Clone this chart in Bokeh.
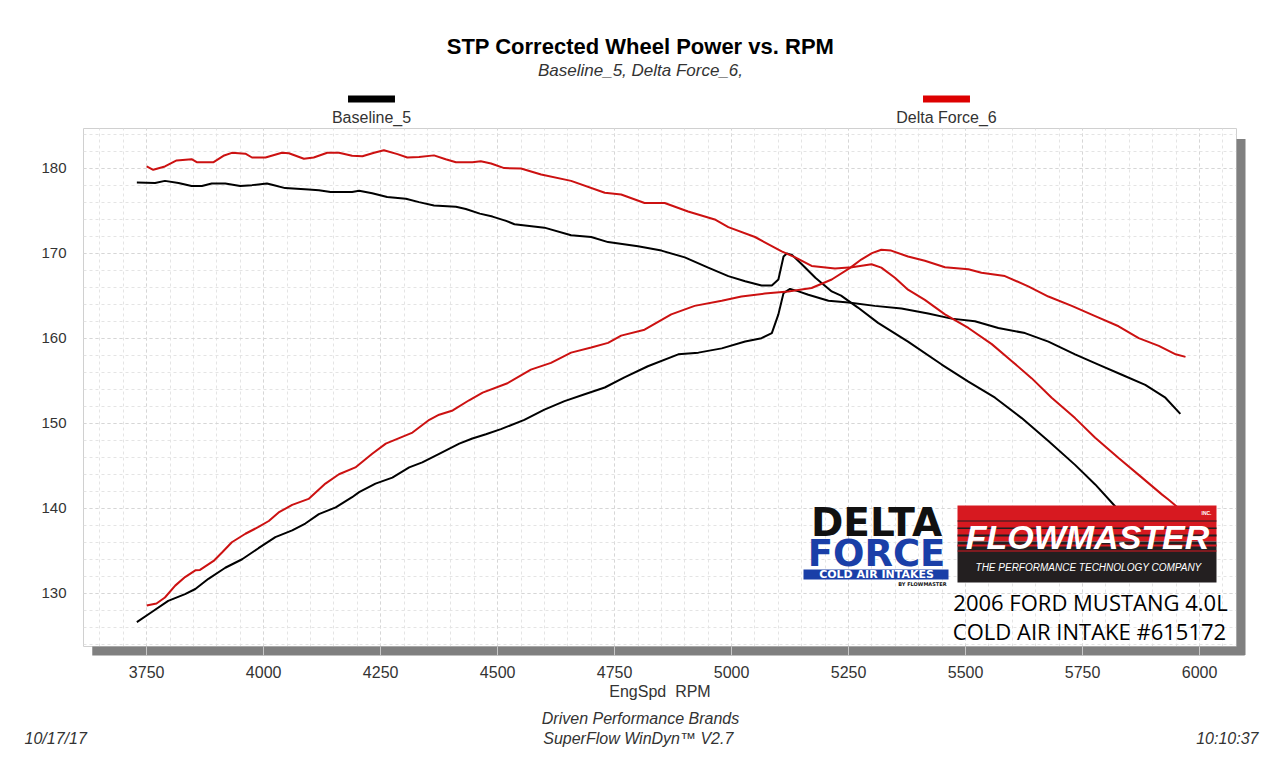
import math
from bokeh.plotting import figure
from bokeh.models import Range1d, FixedTicker, Label, BoxAnnotation
from bokeh.embed import file_html
from bokeh.resources import INLINE

# Baseline_5 (black) and Delta Force_6 (red), two traces each
base_tq_rpm = [3729, 3768, 3789, 3818, 3846, 3868, 3889, 3918, 3950, 3975, 4007, 4018, 4046, 4096,
               4118, 4143, 4189, 4204, 4232, 4264, 4304, 4332, 4364, 4411, 4432, 4462, 4489, 4518,
               4536, 4600, 4657, 4700, 4736, 4800, 4850, 4900, 4950, 4993, 5029, 5064, 5086, 5100,
               5111, 5118, 5129, 5150, 5179, 5214, 5234, 5270, 5313, 5377, 5449, 5506, 5563, 5620,
               5677, 5734, 5777, 5820, 5870, 5920, 5960]
base_tq = [178.3, 178.25, 178.5, 178.25, 177.9, 177.9, 178.2, 178.2, 177.9, 178.0, 178.2, 178.05,
           177.65, 177.5, 177.4, 177.2, 177.2, 177.35, 177.05, 176.6, 176.4, 176.0, 175.6, 175.45,
           175.2, 174.65, 174.3, 173.8, 173.4, 173.0, 172.1, 171.9, 171.3, 170.8, 170.3, 169.5,
           168.3, 167.3, 166.7, 166.2, 166.2, 166.9, 169.6, 169.96, 169.8, 168.7, 167.1, 165.5,
           165.0, 163.6, 161.8, 159.6, 156.9, 154.9, 153.0, 150.6, 147.9, 145.1, 142.8, 140.2,
           137.5, 135.0, 133.0]

base_hp_rpm = [3729, 3761, 3796, 3832, 3854, 3882, 3918, 3954, 3989, 4025, 4061, 4089, 4118, 4154,
               4189, 4204, 4239, 4275, 4311, 4339, 4375, 4418, 4446, 4475, 4507, 4557, 4600, 4643,
               4686, 4729, 4771, 4821, 4886, 4929, 4979, 5029, 5064, 5086, 5100, 5107, 5111, 5125,
               5143, 5164, 5207, 5250, 5306, 5363, 5420, 5470, 5520, 5570, 5627, 5677, 5734, 5784,
               5834, 5884, 5927, 5959]
base_hp = [126.6, 127.8, 129.1, 129.9, 130.5, 131.7, 133.0, 134.0, 135.3, 136.6, 137.4, 138.2,
           139.3, 140.1, 141.3, 141.9, 142.9, 143.6, 144.8, 145.4, 146.4, 147.6, 148.2, 148.7,
           149.3, 150.4, 151.6, 152.6, 153.4, 154.2, 155.4, 156.7, 158.1, 158.3, 158.8, 159.6,
           160.0, 160.6, 162.8, 164.4, 165.3, 165.8, 165.5, 165.1, 164.4, 164.2, 163.8, 163.5,
           162.9, 162.3, 162.0, 161.2, 160.6, 159.6, 158.1, 156.9, 155.7, 154.5, 153.0, 151.1]

df_tq_rpm = [3750, 3764, 3789, 3814, 3846, 3857, 3893, 3914, 3932, 3961, 3975, 4004, 4039, 4054,
             4086, 4107, 4136, 4161, 4189, 4211, 4236, 4257, 4286, 4307, 4332, 4364, 4389, 4411,
             4446, 4464, 4486, 4514, 4550, 4593, 4657, 4729, 4764, 4814, 4857, 4907, 4964, 4993,
             5050, 5107, 5136, 5171, 5221, 5257, 5299, 5320, 5349, 5377, 5413, 5456, 5506, 5556,
             5599, 5641, 5684, 5734, 5777, 5827, 5877, 5920, 5934, 5960]
df_tq = [180.2, 179.8, 180.2, 180.9, 181.05, 180.7, 180.7, 181.45, 181.8, 181.7, 181.25, 181.25,
         181.8, 181.75, 181.1, 181.25, 181.8, 181.8, 181.45, 181.4, 181.8, 182.1, 181.65, 181.25,
         181.3, 181.5, 181.05, 180.7, 180.7, 180.8, 180.55, 180.0, 179.96, 179.25, 178.5, 177.1,
         176.9, 175.9, 175.9, 174.9, 173.96, 173.06, 171.9, 170.2, 169.5, 168.5, 168.2, 168.35,
         168.7, 168.3, 167.1, 165.7, 164.5, 162.8, 161.2, 159.3, 157.3, 155.3, 153.0, 150.6,
         148.3, 145.9, 143.6, 141.6, 141.0, 139.8]

df_hp_rpm = [3750, 3771, 3789, 3811, 3832, 3854, 3864, 3893, 3911, 3932, 3961, 3989, 4011, 4032,
             4061, 4096, 4132, 4161, 4196, 4232, 4261, 4296, 4318, 4354, 4375, 4404, 4439, 4468,
             4521, 4571, 4614, 4657, 4700, 4736, 4764, 4814, 4871, 4921, 4979, 5021, 5071, 5121,
             5171, 5214, 5254, 5277, 5300, 5320, 5341, 5377, 5413, 5456, 5506, 5534, 5584, 5634,
             5677, 5727, 5777, 5827, 5870, 5913, 5949, 5970]
df_hp = [128.55, 128.8, 129.5, 130.9, 131.9, 132.7, 132.75, 133.8, 134.8, 136.0, 137.0, 137.8,
         138.5, 139.5, 140.4, 141.1, 142.9, 144.0, 144.8, 146.4, 147.6, 148.4, 148.9, 150.4,
         151.0, 151.5, 152.7, 153.6, 154.7, 156.3, 157.1, 158.3, 158.9, 159.45, 160.3, 161.0,
         162.8, 163.8, 164.4, 164.9, 165.25, 165.5, 165.9, 166.9, 168.3, 169.25, 170.0, 170.4,
         170.3, 169.6, 169.1, 168.35, 168.1, 167.7, 167.3, 166.1, 164.9, 163.8, 162.6, 161.4,
         160.0, 159.1, 158.1, 157.8]

x_ticks = list(range(3750, 6001, 250))
x_minor = list(range(3650, 6051, 50))
y_ticks = list(range(130, 181, 10))
y_minor = list(range(124, 185, 2))

BLACK = "#000000"
RED = "#cc1111"
FONT = "Liberation Sans"

p = figure(width=1280, height=776, output_backend="svg", toolbar_location=None,
           x_range=Range1d(3615, 6079), y_range=Range1d(123.74, 184.66),
           min_border_left=83, min_border_right=44, min_border_top=128, min_border_bottom=130)
p.outline_line_color = "#d0d0d0"
p.background_fill_color = "white"

p.xaxis.ticker = FixedTicker(ticks=x_ticks, minor_ticks=x_minor)
p.yaxis.ticker = FixedTicker(ticks=y_ticks, minor_ticks=y_minor)
for g in (p.xgrid, p.ygrid):
    g.grid_line_color = "#d6d6d6"
    g.grid_line_dash = "3 3"
    g.minor_grid_line_color = "#e4e4e4"
    g.minor_grid_line_dash = "3 3"

p.yaxis.axis_line_color = None
p.yaxis.major_tick_line_color = None
p.yaxis.minor_tick_line_color = None
p.yaxis.major_label_standoff = 11
p.yaxis.major_label_text_font = FONT
p.yaxis.major_label_text_font_size = "15px"
p.yaxis.major_label_text_color = "#333333"

p.xaxis.axis_line_color = None
p.xaxis.major_tick_in = 0
p.xaxis.major_tick_out = 9
p.xaxis.major_tick_line_color = "#c8c8c8"
p.xaxis.minor_tick_line_color = None
p.xaxis.major_label_standoff = 10
p.xaxis.major_label_text_font = FONT
p.xaxis.major_label_text_font_size = "16px"
p.xaxis.major_label_text_color = "#333333"
p.xaxis.axis_label = "EngSpd\u00a0 RPM"
p.xaxis.axis_label_text_font = FONT
p.xaxis.axis_label_text_font_size = "16px"
p.xaxis.axis_label_text_font_style = "normal"
p.xaxis.axis_label_text_color = "#333333"
p.xaxis.axis_label_standoff = 2


def box(l, r, t, b, color):
    # boxes inside the chart frame
    p.add_layout(BoxAnnotation(left=l, right=r, top=t, bottom=b,
                               left_units="canvas", right_units="canvas",
                               top_units="canvas", bottom_units="canvas",
                               fill_color=color, fill_alpha=1, line_alpha=0))


def bar(x0, x1, y0, y1, color, side, level="annotation", vertical=False):
    # filled strip outside the frame: a blank label with a solid background
    thick = (x1 - x0) if vertical else (y1 - y0)
    length = (y1 - y0) if vertical else (x1 - x0)
    size = thick / 1.164
    n = max(1, round(length / (0.602 * size)))
    p.add_layout(Label(x=(x0 + x1) / 2, y=(y0 + y1) / 2, x_units="canvas", y_units="canvas",
                       text="\u00a0" * n, text_font="DejaVu Sans Mono",
                       text_font_size=f"{size:.2f}px", text_align="center",
                       text_baseline="middle", background_fill_color=color,
                       background_fill_alpha=1, angle=math.pi / 2 if vertical else 0,
                       level=level), side)


def text(x, y, s, size, align="center", style="normal", color="#333333", font=FONT, side=None):
    lab = Label(x=x, y=y, x_units="canvas", y_units="canvas", text=s,
                text_font=font, text_font_size=size, text_font_style=style,
                text_color=color, text_align=align, text_baseline="middle")
    if side:
        p.add_layout(lab, side)
    else:
        p.add_layout(lab)


# drop shadow of the chart frame; the bottom strip sits in the top panel so that
# the x ticks of the bottom panel are painted over it
bar(91, 1245, 646, 655, "#808080", "above", level="guide")
bar(1236, 1245, 138, 655, "#808080", "right", level="guide", vertical=True)

p.line(base_tq_rpm, base_tq, line_color=BLACK, line_width=2)
p.line(base_hp_rpm, base_hp, line_color=BLACK, line_width=2)
p.line(df_tq_rpm, df_tq, line_color=RED, line_width=2)
p.line(df_hp_rpm, df_hp, line_color=RED, line_width=2)

# header and legend
text(640, 46, "STP Corrected Wheel Power vs. RPM", "22px", style="bold", color="black", side="above")
text(640, 70, "Baseline_5, Delta Force_6,", "17px", style="italic", side="above")
bar(347, 395, 95, 102, BLACK, "above")
bar(922, 970, 95, 102, "#dd0000", "above")
text(371, 117, "Baseline_5", "16px", side="above")
text(946, 117, "Delta Force_6", "16px", side="above")

# footer
text(640, 718, "Driven Performance Brands", "16px", style="italic", side="below")
text(640, 738, "SuperFlow WinDyn\u2122  V2.7", "16px", style="italic", side="below")
text(24, 738, "10/17/17", "16px", align="left", style="italic", side="below")
text(1258, 738, "10:10:37", "16px", align="right", style="italic", side="below")

# Delta Force logo
text(876, 522, "DELTA", "39px", style="bold", color="#111111", font="DejaVu Sans")
text(876, 553, "FORCE", "37px", style="bold", color="#1a3fa8", font="DejaVu Sans")
box(803, 948, 569, 579, "#1a3fa8")
text(876, 574, "COLD AIR INTAKES", "11px", style="bold", color="white", font="DejaVu Sans")
text(946, 583, "BY FLOWMASTER", "5px", align="right", style="bold", color="#111111", font="DejaVu Sans")

# Flowmaster logo
box(957, 1216, 505, 541, "#d71920")
box(957, 1216, 541, 582, "#231f20")
for t, h in [(520, 1), (527, 1.5), (534, 2)]:
    box(957, 1216, t, t + h, "#231f20")
for t, h in [(544, 2), (550, 1)]:
    box(957, 1216, t, t + h, "#d71920")
text(1087, 536, "FLOWMASTER", "34px", style="bold italic", color="white")
text(1088, 567, "THE PERFORMANCE TECHNOLOGY COMPANY", "10px", style="italic", color="white")
text(1206, 512, "INC.", "5px", style="bold", color="white")

text(1090, 601, "2006 FORD MUSTANG 4.0L", "22px", color="black", font="Open Sans")
text(1089, 630, "COLD AIR INTAKE #615172", "22px", color="black", font="Open Sans")

open("out.html", "w").write(file_html(p, INLINE))
